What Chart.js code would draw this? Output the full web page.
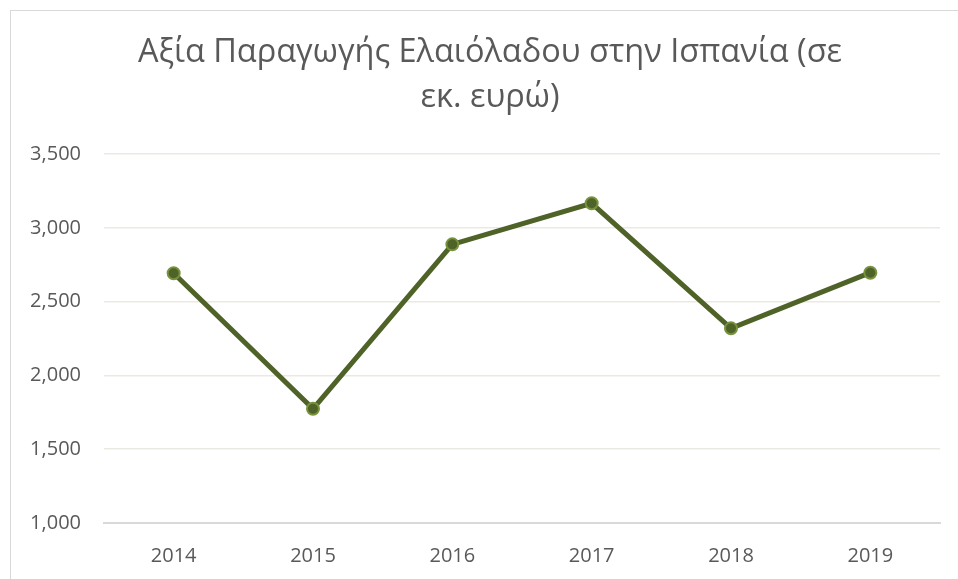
<!DOCTYPE html>
<html>
<head>
<meta charset="utf-8">
<script src="https://cdn.jsdelivr.net/npm/chart.js@4/dist/chart.umd.min.js"></script>
<style>
    html, body { margin: 0; padding: 0; background: #fff; }
    #wrap { position: relative; width: 958px; height: 579px; overflow: hidden; }
    #frame {
        position: absolute; left: 10px; top: 10px; width: 1000px; height: 700px;
        border: 1px solid #d9d9d9; box-sizing: border-box;
    }
    #chart { position: absolute; left: 0; top: 0; }
</style>
</head>
<body>
<div id="wrap">
    <div id="frame"></div>
    <canvas id="chart" width="980" height="579"></canvas>
</div>
<script>
// ===== DATA =====
const years = ['2014', '2015', '2016', '2017', '2018', '2019'];
const productionValue = [2692, 1774, 2888, 3166, 2319, 2696];
const titleLines = ['Αξία Παραγωγής Ελαιόλαδου στην Ισπανία (σε', 'εκ. ευρώ)'];

const textColor = '#595959';
const fontFamily = "'Open Sans', 'Noto Sans', sans-serif";

const ctx = document.getElementById('chart').getContext('2d');

new Chart(ctx, {
    type: 'line',
    data: {
        labels: years,
        datasets: [{
            label: 'Αξία',
            data: productionValue,
            yAxisID: 'y',
            borderColor: '#4f6228',
            borderWidth: 5,
            backgroundColor: '#4f6228',
            pointBackgroundColor: '#4f6228',
            pointBorderColor: '#77933c',
            pointBorderWidth: 2,
            pointRadius: 6,
            tension: 0,
            fill: false
        }]
    },
    options: {
        responsive: false,
        animation: false,
        layout: {
            padding: { left: 0, right: 0, top: 0, bottom: 0 }
        },
        plugins: {
            legend: { display: false },
            tooltip: { enabled: false },
            title: {
                display: true,
                text: titleLines,
                color: textColor,
                font: { family: fontFamily, size: 32.5, weight: 'normal', lineHeight: 1.385 },
                padding: { top: 30, bottom: 34 }
            }
        },
        scales: {
            x: {
                offset: true,
                grid: { display: false, drawTicks: false },
                border: { display: true, color: '#d9d9d9', width: 2 },
                ticks: {
                    color: textColor,
                    font: { family: fontFamily, size: 20 },
                    padding: 21,
                    maxRotation: 0
                },
                afterFit: function (scale) { scale.height = 56; }
            },
            y: {
                min: 1000,
                max: 3500,
                grid: { color: '#ebeae2', lineWidth: 1.5, drawTicks: false },
                border: { display: false },
                ticks: {
                    stepSize: 500,
                    color: textColor,
                    font: { family: fontFamily, size: 20 },
                    padding: 23,
                    callback: function (v) { return v.toLocaleString('en-US'); }
                },
                afterFit: function (scale) { scale.width = 104; }
            },
            // empty right margin so the plot ends where the picture's does
            yRight: {
                type: 'linear',
                position: 'right',
                grid: { display: false, drawTicks: false },
                border: { display: false },
                ticks: { display: false },
                afterFit: function (scale) { scale.width = 40; }
            }
        }
    }
});
</script>
</body>
</html>
